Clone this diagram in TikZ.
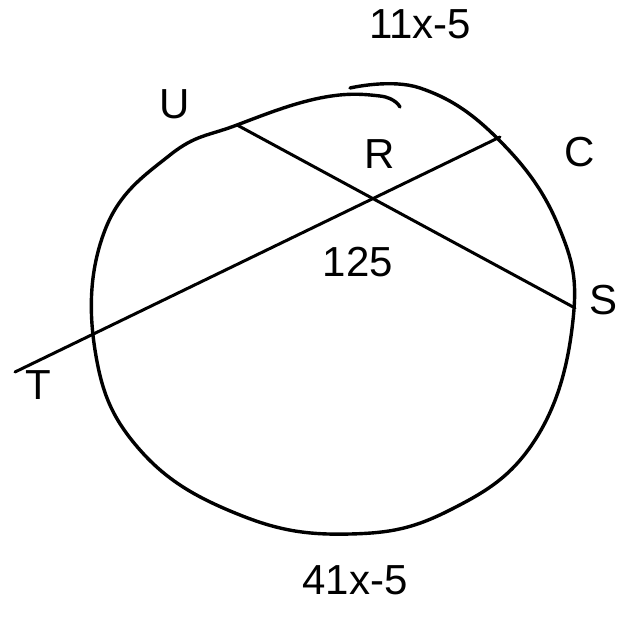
\documentclass[tikz,border=0pt]{standalone}
\usepackage{fontspec}
\setmainfont{Liberation Sans}
\usepackage{tikz}
\usetikzlibrary{positioning,calc}
\tikzset{
  rim/.style={line width=3.4pt, line join=round, line cap=round},
  chord/.style={line width=3pt, line cap=round},
  pen/.style={font=\fontsize{42}{46}\selectfont, inner sep=0pt},
}
\begin{document}
\begin{tikzpicture}[x=1pt, y=-1pt]
  \useasboundingbox (0,0) rectangle (636,621);

  % circle, drawn as one stroke round and a short overlap at the top
  \draw[rim] plot[smooth, tension=0.7] coordinates {
    (350,88) (420,88) (497,138) (558,225)
    (573,320) (535,440) (450,510) (350,534)
    (240,515) (140,450) (95,350) (105,230)
    (170,155) (237,125) (320,98) (380,96) (400,107)};

  % chord ends
  \coordinate (Tend) at (15,372);
  \coordinate (Cend) at (500,137);
  \coordinate (Uend) at (237,125);
  \coordinate (Send) at (575,308);

  \draw[chord] (Tend) -- (Cend);
  \draw[chord] (Uend) -- (Send);

  % labels
  \node[pen] (arcTop) at (420,24) {11x-5};
  \node[pen] (labU) at (175,104) {U};
  \node[pen] (labR) at (380,154) {R};
  \node[pen] (labC) at (580,152) {C};
  \node[pen] (ang) at (358,262) {125};
  \node[pen] (labS) at (603,300) {S};
  \node[pen] (labT) at (38,385) {T};
  \node[pen] (arcBot) at (355,580) {41x-5};
\end{tikzpicture}
\end{document}
